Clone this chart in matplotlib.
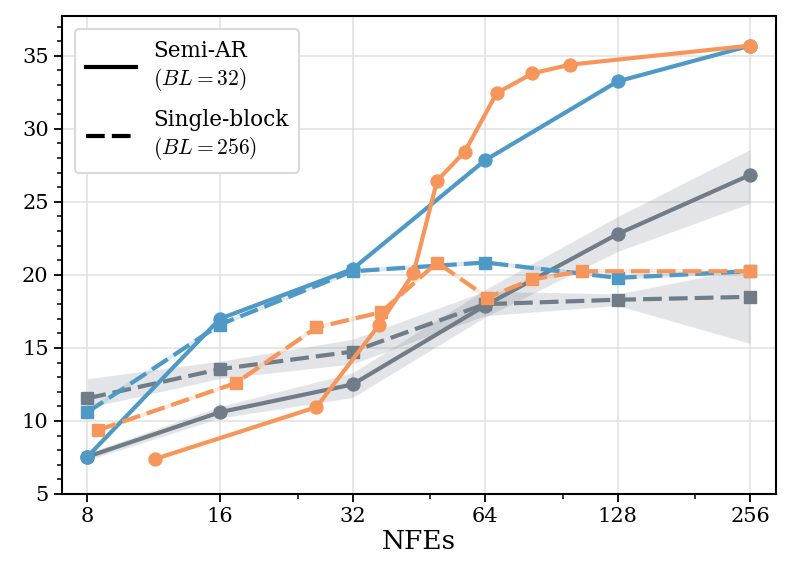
import matplotlib
matplotlib.use('Agg')
import matplotlib.pyplot as plt
import numpy as np

plt.rcParams['font.family'] = 'DejaVu Serif'
plt.rcParams['mathtext.fontset'] = 'cm'

# NFE grid used by most runs
nfe = [8, 16, 32, 64, 128, 256]

# blue model
blue_semi = [7.55, 17.0, 20.4, 27.85, 33.25, 35.7]
blue_single = [10.6, 16.6, 20.25, 20.85, 19.8, 20.25]

# gray model (mean and spread)
gray_semi = [7.55, 10.6, 12.5, 17.9, 22.8, 26.85]
gray_semi_lo = [7.3, 10.2, 11.6, 17.1, 21.6, 24.9]
gray_semi_hi = [7.8, 11.0, 13.3, 19.0, 24.0, 28.6]
gray_single = [11.55, 13.55, 14.75, 18.0, 18.3, 18.5]
gray_single_lo = [10.9, 12.9, 13.9, 17.2, 17.9, 15.3]
gray_single_hi = [12.9, 14.1, 15.6, 18.9, 18.7, 20.5]

# orange model (adaptive NFEs)
orange_semi_x = [11.4, 26.5, 36.8, 44, 49.8, 57.6, 68, 82, 100, 256]
orange_semi = [7.4, 10.95, 16.6, 20.1, 26.45, 28.45, 32.45, 33.8, 34.4, 35.7]
orange_single_x = [8.45, 17.4, 26.5, 37.2, 49.8, 64.8, 82, 106, 256]
orange_single = [9.37, 12.6, 16.4, 17.45, 20.85, 18.45, 19.7, 20.25, 20.25]

legend_labels = ['Semi-AR\n$(BL=32)$', 'Single-block\n$(BL=256)$']

c_blue = '#4E99C5'
c_orange = '#F7965A'
c_gray = '#707C88'

lw = 3.0
ms = 9.3
dash = (0, (4.5, 1.7))

fig, ax = plt.subplots(figsize=(7.93, 5.86), dpi=100)
fig.subplots_adjust(left=0.078, right=0.9786, top=0.972, bottom=0.157)

# gray with bands
ax.fill_between(nfe, gray_semi_lo, gray_semi_hi, color=c_gray, alpha=0.2, edgecolor='white', lw=0.8, zorder=1)
ax.fill_between(nfe, gray_single_lo, gray_single_hi, color=c_gray, alpha=0.2, edgecolor='white', lw=0.8, zorder=1)
ax.plot(nfe, gray_semi, color=c_gray, lw=lw, marker='o', ms=ms, zorder=3)
ax.plot(nfe, gray_single, color=c_gray, lw=lw, ls=dash, marker='s', ms=ms, zorder=3)

# blue
ax.plot(nfe, blue_single, color=c_blue, lw=lw, alpha=0.2, zorder=2)
ax.plot(nfe, blue_single, color=c_blue, lw=lw, ls=dash, marker='s', ms=ms, zorder=4)
ax.plot(nfe, blue_semi, color=c_blue, lw=lw, marker='o', ms=ms, zorder=4)

# orange
ax.plot(orange_single_x, orange_single, color=c_orange, lw=lw, alpha=0.2, zorder=2)
ax.plot(orange_single_x, orange_single, color=c_orange, lw=lw, ls=dash, marker='s', ms=ms, zorder=5)
ax.plot(orange_semi_x, orange_semi, color=c_orange, lw=lw, marker='o', ms=ms, zorder=5)

ax.set_xscale('log', base=2)
ax.set_xticks(nfe)
ax.set_xticklabels([str(n) for n in nfe])
ax.set_xticks([24, 48, 96, 192], minor=True)
ax.xaxis.set_minor_formatter(matplotlib.ticker.NullFormatter())
ax.set_xlim(7.0, 293)
ax.set_ylim(5, 37.7)
ax.set_yticks([5, 10, 15, 20, 25, 30, 35])
ax.set_yticks(np.arange(5, 38, 1), minor=True)

ax.tick_params(axis='both', which='major', labelsize=15, length=6, width=1.3, direction='out')
ax.tick_params(axis='both', which='minor', length=3.5, width=1.1)
ax.set_xlabel('NFEs', fontsize=19, labelpad=2)
ax.grid(True, which='major', color='#e0e0e0', lw=1.1, zorder=0)
ax.set_axisbelow(True)
for s in ax.spines.values():
    s.set_linewidth(1.5)

# legend shows line style only
h1, = ax.plot([], [], color='black', lw=lw)
h2, = ax.plot([], [], color='black', lw=lw, ls=dash)
leg = ax.legend([h1, h2], legend_labels,
                loc='upper left', fontsize=15.5, handlelength=2.35, labelspacing=0.75,
                framealpha=1, edgecolor='#d9d9d9', fancybox=True, borderpad=0.5,
                borderaxespad=0.6)
leg.get_frame().set_linewidth(1.5)

fig.savefig('out.png', dpi=100)
